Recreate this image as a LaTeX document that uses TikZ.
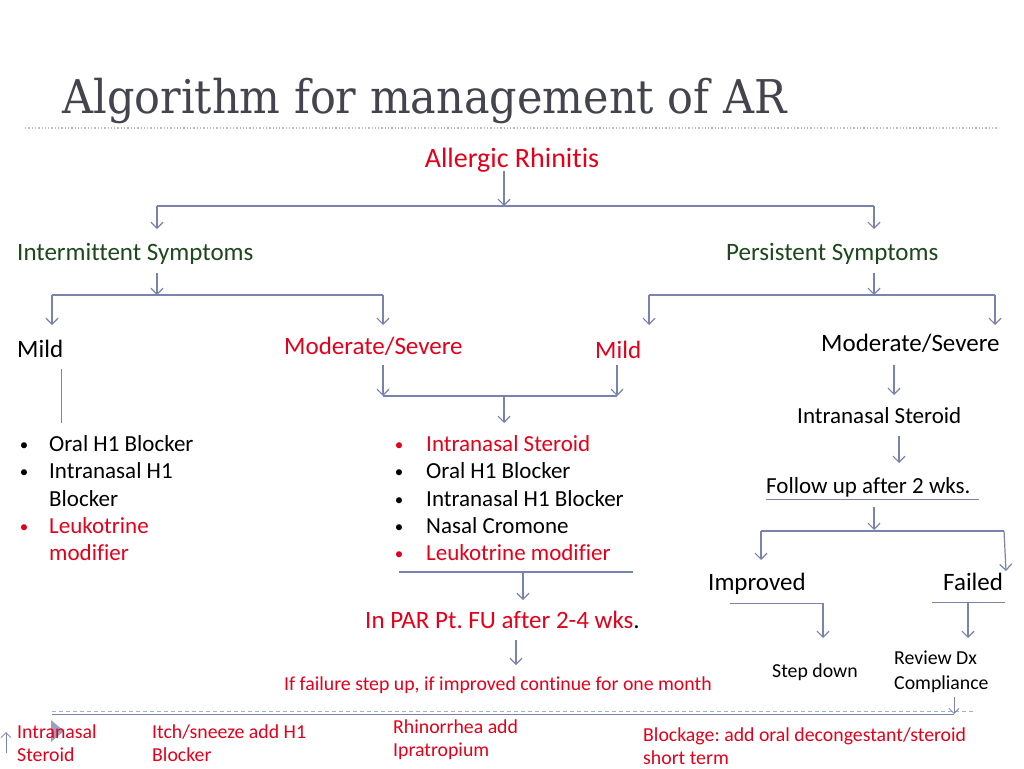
\documentclass[tikz,border=0pt]{standalone}
\usepackage{fontspec}
\setmainfont[Ligatures={NoCommon,NoRequired,NoContextual}]{Carlito}
\newfontfamily\titlefont[FakeStretch=0.925]{DejaVu Serif}
\usetikzlibrary{arrows.meta}
\definecolor{arrc}{HTML}{7A83AD}
\definecolor{rd}{HTML}{E4001B}
\definecolor{gr}{HTML}{1C481C}
\definecolor{ttl}{HTML}{44444E}
\definecolor{dotc}{HTML}{BDBDBD}
\definecolor{dashc}{HTML}{A8AEC8}
\begin{document}
\frenchspacing
\begin{tikzpicture}[x=1pt,y=-1pt,
 arr/.style={draw=arrc,line width=1.2pt,-{Straight Barb[length=6pt,width=12pt,line width=1.2pt]}},
 ln/.style={draw=arrc,line width=1.2pt},
 txt/.style={inner sep=0pt,anchor=base west},
 fbig/.style={font=\fontsize{28}{30}\selectfont},
 fhd/.style={font=\fontsize{25}{28}\selectfont},
 fli/.style={font=\fontsize{23}{27}\selectfont},
 fsm/.style={font=\fontsize{19.8}{24}\selectfont},
 bul/.style={inner sep=0pt,anchor=base,font=\fontsize{17}{20}\selectfont}
]
\useasboundingbox (0,0) rectangle (1024,768);
\fill[white] (0,0) rectangle (1024,768);

% title
\node[txt,text=ttl,font=\titlefont\fontsize{46.5}{50}\selectfont] (title) at (62,113) {Algorithm for management of AR};
\draw[dotc,line width=1.3pt,dash pattern=on 1.3pt off 2pt] (25,128) -- (997,128);

% root
\node[txt,anchor=base,fbig,text=rd] (ar) at (512,167) {Allergic Rhinitis};
\coordinate (a0) at (504,171); \coordinate (a1) at (504,206);
\coordinate (aL) at (157,206); \coordinate (aR) at (874,206);
\coordinate (imTop) at (157,229); \coordinate (peTop) at (874,229);
\draw[arr] (a0) -- (a1);
\draw[ln] (aL) -- (aR);
\draw[arr] (aL) -- (imTop);
\draw[arr] (aR) -- (peTop);

% level 2
\node[txt,fhd,text=gr] (im) at (17,260) {Intermittent Symptoms};
\node[txt,fhd,text=gr] (pe) at (726,260) {Persistent Symptoms};

\coordinate (b0) at (157,273); \coordinate (b1) at (157,295);
\coordinate (bL) at (52,295); \coordinate (bR) at (383,295);
\coordinate (mildLT) at (52,325); \coordinate (msLT) at (383,325);
\draw[arr] (b0) -- (b1);
\draw[ln] (bL) -- (bR);
\draw[arr] (bL) -- (mildLT);
\draw[arr] (bR) -- (msLT);

\coordinate (c0) at (874,273); \coordinate (c1) at (874,295);
\coordinate (cL) at (649,295); \coordinate (cR) at (995,295);
\coordinate (mildRT) at (649,325); \coordinate (msRT) at (995,325);
\draw[arr] (c0) -- (c1);
\draw[ln] (cL) -- (cR);
\draw[arr] (cL) -- (mildRT);
\draw[arr] (cR) -- (msRT);

% level 3
\node[txt,fhd] (mildL) at (17,357) {Mild};
\node[txt,fhd,text=rd] (msL) at (284,354) {Moderate/Severe};
\node[txt,fhd,text=rd] (mildR) at (595,358) {Mild};
\node[txt,fhd] (msR) at (821,351) {Moderate/Severe};

% left mild branch
\coordinate (g0) at (61,369); \coordinate (g1) at (61,423);
\draw[arrc,line width=1pt] (g0) -- (g1);
\node[bul] (lb1) at (24,450) {\textbullet};
\node[txt,fli] (lt1) at (49,451) {Oral H1 Blocker};
\node[bul] (lb2) at (24,477) {\textbullet};
\node[txt,fli] (lt2) at (49,478) {Intranasal H1};
\node[txt,fli] (lt2b) at (49,506) {Blocker};
\node[bul,text=rd] (lb3) at (24,532) {\textbullet};
\node[txt,fli,text=rd] (lt3) at (49,533) {Leukotrine};
\node[txt,fli,text=rd] (lt3b) at (49,560) {modifier};

% middle merge
\coordinate (d0) at (383,365); \coordinate (d1) at (383,396);
\coordinate (e0) at (617,365); \coordinate (e1) at (617,396);
\coordinate (f0) at (504,396); \coordinate (f1) at (504,423);
\draw[arr] (d0) -- (d1);
\draw[arr] (e0) -- (e1);
\draw[ln] (d1) -- (e1);
\draw[arr] (f0) -- (f1);

\node[bul,text=rd] (mb1) at (399,450) {\textbullet};
\node[txt,fli,text=rd] (mt1) at (426,451) {Intranasal Steroid};
\node[bul] (mb2) at (399,477) {\textbullet};
\node[txt,fli] (mt2) at (426,478) {Oral H1 Blocker};
\node[bul] (mb3) at (399,505) {\textbullet};
\node[txt,fli] (mt3) at (426,506) {Intranasal H1 Blocker};
\node[bul] (mb4) at (399,532) {\textbullet};
\node[txt,fli] (mt4) at (426,533) {Nasal Cromone};
\node[bul,text=rd] (mb5) at (399,559) {\textbullet};
\node[txt,fli,text=rd] (mt5) at (426,560) {Leukotrine modifier};

\coordinate (h0) at (399,572); \coordinate (h1) at (633,572);
\coordinate (h2) at (523,572); \coordinate (h3) at (523,600);
\draw[ln] (h0) -- (h1);
\draw[arr] (h2) -- (h3);
\node[txt,fhd,text=rd] (par) at (365,628) {In PAR Pt. FU after 2-4 wks\textcolor{black}{.}};
\coordinate (k0) at (516,640); \coordinate (k1) at (516,665);
\draw[arr] (k0) -- (k1);
\node[txt,fsm,text=rd] (fail) at (284,690) {If failure step up, if improved continue for one month};

% right branch
\coordinate (m0) at (894,365); \coordinate (m1) at (894,395);
\draw[arr] (m0) -- (m1);
\node[txt,fli] (ins) at (797,423) {Intranasal Steroid};
\coordinate (n0) at (899,436); \coordinate (n1) at (899,463);
\draw[arr] (n0) -- (n1);
\node[txt,fli] (fu) at (766,493) {Follow up after 2 wks.};
\coordinate (u0) at (766,499); \coordinate (u1) at (979,499);
\draw[arrc,line width=1pt] (u0) -- (u1);
\coordinate (p0) at (874,507); \coordinate (p1) at (874,530);
\draw[arr] (p0) -- (p1);
\coordinate (qL) at (761,531); \coordinate (qR) at (1004,531);
\coordinate (impT) at (761,560); \coordinate (failT) at (1006,571);
\draw[ln] (qL) -- (qR);
\draw[arr] (qL) -- (impT);
\draw[arr] (qR) -- (failT);

\node[txt,fhd] (imp) at (708,590) {Improved};
\node[txt,fhd] (fld) at (943,590) {Failed};
\coordinate (r0) at (730,603); \coordinate (r1) at (823,603); \coordinate (r2) at (823,638);
\draw[arrc,line width=1pt] (r0) -- (r1);
\draw[arr] (r1) -- (r2);
\coordinate (s0) at (932,602); \coordinate (s1) at (1005,602);
\coordinate (s2) at (968,602); \coordinate (s3) at (968,638);
\draw[arrc,line width=1pt] (s0) -- (s1);
\draw[arr] (s2) -- (s3);
\node[txt,fsm] (sd) at (772,677) {Step down};
\node[txt,fsm] (rv) at (894,664) {Review Dx};
\node[txt,fsm] (cp) at (894,689) {Compliance};

% bottom line
\coordinate (w0) at (52,711); \coordinate (w1) at (975,711);
\coordinate (v0) at (52,714); \coordinate (v1) at (954,714);
\draw[dashc,line width=1pt,dash pattern=on 4pt off 3pt] (w0) -- (w1);
\draw[arrc,line width=0.8pt] (v0) -- (v1);
\coordinate (x0) at (954,697); \coordinate (x1) at (954,714);
\draw[arrc,line width=0.8pt,-{Straight Barb[length=5pt,width=10pt,line width=0.8pt]}] (x0) -- (x1);
\fill[arrc,opacity=0.75] (51,720) -- (64,731) -- (51,742) -- cycle;
\coordinate (y0) at (6,753); \coordinate (y1) at (6,732);
\draw[arrc,line width=0.8pt,-{Straight Barb[length=5pt,width=10pt,line width=0.8pt]}] (y0) -- (y1);

% bottom texts
\node[txt,fsm,text=rd] (bt1) at (17,738) {Intranasal};
\node[txt,fsm,text=rd] (bt1b) at (17,761) {Steroid};
\node[txt,fsm,text=rd] (bt2) at (152,738) {Itch/sneeze add H1};
\node[txt,fsm,text=rd] (bt2b) at (152,761) {Blocker};
\node[txt,fsm,text=rd] (bt3) at (393,733) {Rhinorrhea add};
\node[txt,fsm,text=rd] (bt3b) at (393,756) {Ipratropium};
\node[txt,fsm,text=rd] (bt4) at (643,741) {Blockage: add oral decongestant/steroid};
\node[txt,fsm,text=rd] (bt4b) at (643,764) {short term};
\end{tikzpicture}
\end{document}
